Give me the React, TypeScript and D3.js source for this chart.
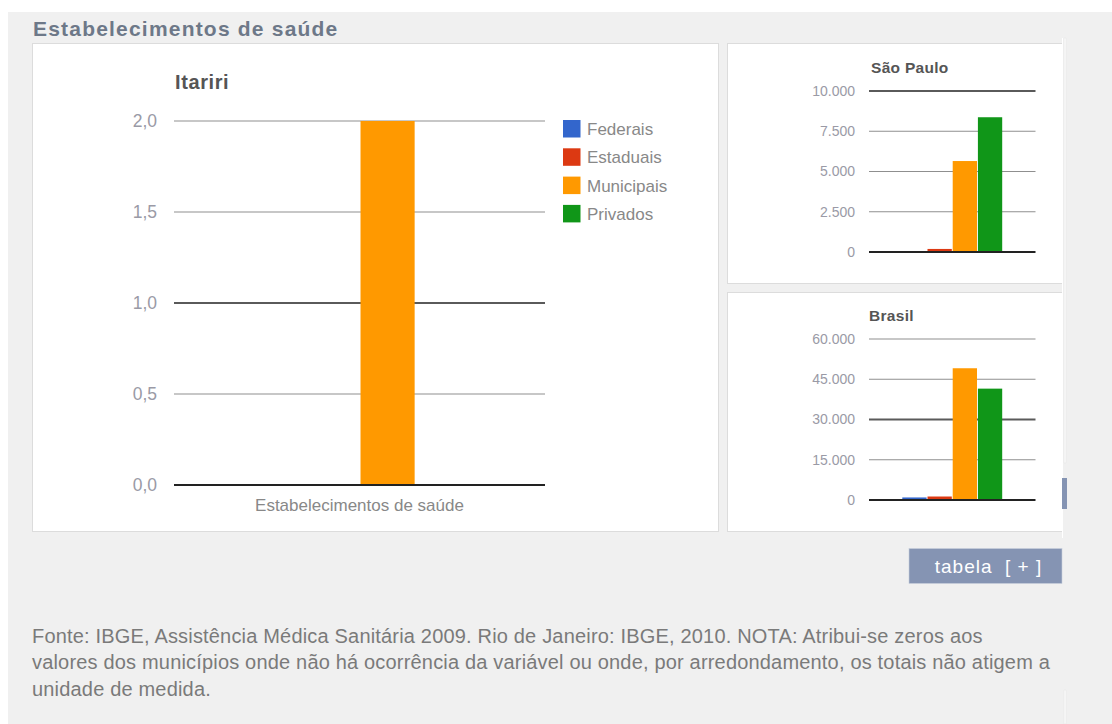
import React from "react";
import * as d3 from "d3";

const seriesNames = ["Federais", "Estaduais", "Municipais", "Privados"];
const seriesColors = ["#3366cc", "#dc3912", "#ff9900", "#109618"];
const category = "Estabelecimentos de saúde";

const itaririValues = [0, 0, 2, 0];
const saoPauloValues = [40, 190, 5650, 8370];
const brasilValues = [950, 1300, 49100, 41500];

const itaririTicks = [0, 0.5, 1, 1.5, 2];
const saoPauloTicks = [0, 2500, 5000, 7500, 10000];
const brasilTicks = [0, 15000, 30000, 45000, 60000];

const footnoteLines = [
  "Fonte: IBGE, Assistência Médica Sanitária 2009. Rio de Janeiro: IBGE, 2010. NOTA: Atribui-se zeros aos",
  "valores dos municípios onde não há ocorrência da variável ou onde, por arredondamento, os totais não atigem a",
  "unidade de medida.",
];

const ptBR = d3.formatLocale({ decimal: ",", thousands: ".", grouping: [3], currency: ["R$", ""] });
const fmtDec = ptBR.format(".1f");
const fmtInt = ptBR.format(",.0f");

const FONT = "'Liberation Sans', Arial, sans-serif";

type ChartProps = {
  x0: number; x1: number; yTop: number; yBottom: number;
  values: number[]; ticks: number[]; fmt: (v: number) => string;
  darkValue: number; tickSize: number; tickX: number;
  title: string; titleX: number; titleY: number; titleSize: number; titleSpacing: number;
  xLabel?: string;
};

function BarChart(p: ChartProps) {
  const y = d3.scaleLinear().domain([0, d3.max(p.ticks) as number]).range([p.yBottom, p.yTop]);
  const outer = d3.scaleBand<string>().domain([category]).range([p.x0, p.x1]).paddingInner(0.4).paddingOuter(0.2);
  const inner = d3.scaleBand<string>().domain(seriesNames).range([0, outer.bandwidth()]).paddingInner(0.036);
  const gx = outer(category) as number;
  return (
    <g>
      <text x={p.titleX} y={p.titleY} fontSize={p.titleSize} letterSpacing={p.titleSpacing} fontWeight="bold" fill="#555" fontFamily={FONT}>{p.title}</text>
      {p.ticks.map((t) => {
        const isBase = t === 0;
        const isDark = t === p.darkValue;
        return (
          <g key={t}>
            <line x1={p.x0} x2={p.x1} y1={y(t)} y2={y(t)}
              stroke={isBase ? "#222" : isDark ? "#5a5a5a" : "#8f8f8f"}
              strokeWidth={isBase || isDark ? 2 : 1.2} />
            <text x={p.tickX} y={y(t)} dy="0.35em" textAnchor="end" fontSize={p.tickSize} fill="#9a9aa6" fontFamily={FONT}>{p.fmt(t)}</text>
          </g>
        );
      })}
      {p.values.map((v, i) => {
        const bx = gx + (inner(seriesNames[i]) as number);
        const h = y(0) - y(v);
        if (h <= 0) return null;
        return <rect key={i} x={bx} y={y(v)} width={inner.bandwidth()} height={h - 1} fill={seriesColors[i]} />;
      })}
      {p.xLabel && (
        <text x={(p.x0 + p.x1) / 2} y={p.yBottom + 26} textAnchor="middle" fontSize={17} fill="#888" fontFamily={FONT}>{p.xLabel}</text>
      )}
    </g>
  );
}

export default function App() {
  return (
    <svg width={1112} height={724} style={{ position: "absolute", left: 0, top: 0 }}>
      <rect x={0} y={0} width={1112} height={724} fill="#fff" />
      <rect x={8} y={12} width={1104} height={712} fill="#f0f0f0" />
      <text x={33} y={36} fontSize={21} letterSpacing={1.2} fontWeight="bold" fill="#6d7888" fontFamily={FONT}>Estabelecimentos de saúde</text>

      {/* main panel */}
      <rect x={32.5} y={43.5} width={686} height={488} fill="#fff" stroke="#dcdcdc" />
      <BarChart x0={174} x1={545} yTop={121} yBottom={485} values={itaririValues} ticks={itaririTicks}
        fmt={fmtDec} darkValue={1} tickSize={17.5} tickX={157} title="Itariri" titleX={175} titleY={89} titleSize={20} titleSpacing={0.6}
        xLabel={category} />
      {seriesNames.map((s, i) => (
        <g key={s}>
          <rect x={563} y={120 + i * 28.3} width={17.5} height={17.5} fill={seriesColors[i]} />
          <text x={587} y={129 + i * 28.3} dy="0.35em" fontSize={17} fill="#888" fontFamily={FONT}>{s}</text>
        </g>
      ))}

      {/* São Paulo panel */}
      <rect x={727.5} y={43.5} width={335} height={240} fill="#fff" stroke="#dcdcdc" />
      <BarChart x0={869} x1={1035.5} yTop={91} yBottom={252} values={saoPauloValues} ticks={saoPauloTicks}
        fmt={fmtInt} darkValue={10000} tickSize={14} tickX={855} title="São Paulo" titleX={871} titleY={73} titleSize={15.5} titleSpacing={0.3} />

      {/* Brasil panel */}
      <rect x={727.5} y={292.5} width={335} height={239} fill="#fff" stroke="#dcdcdc" />
      <BarChart x0={869} x1={1035.5} yTop={339} yBottom={500} values={brasilValues} ticks={brasilTicks}
        fmt={fmtInt} darkValue={30000} tickSize={14} tickX={855} title="Brasil" titleX={869} titleY={321} titleSize={15.5} titleSpacing={0.3} />

      {/* right edge remnants */}
      <rect x={1062} y={38} width={1} height={500} fill="#fff" />
      <rect x={1064} y={38} width={2} height={425} fill="#fafafa" stroke="#e4e4e4" strokeWidth={0.5} />
      <rect x={1062} y={478} width={5} height={31} fill="#8594b3" />
      <rect x={1064} y={690} width={2} height={34} fill="#fafafa" stroke="#e4e4e4" strokeWidth={0.5} />

      {/* tabela button */}
      <rect x={909} y={548.5} width={153} height={35} fill="#8594b3" stroke="#c8cfdc" strokeWidth={0.6} />
      <text x={988.5} y={573} textAnchor="middle" fontSize={19} letterSpacing={1} fill="#fff" fontFamily={FONT} style={{ whiteSpace: "pre" }}>{"tabela  [ + ]"}</text>

      {/* footnote */}
      {footnoteLines.map((l, i) => (
        <text key={i} x={32} y={643 + i * 26.3} fontSize={20} letterSpacing={0.18} fill="#7a7a7a" fontFamily={FONT}>{l}</text>
      ))}
    </svg>
  );
}
